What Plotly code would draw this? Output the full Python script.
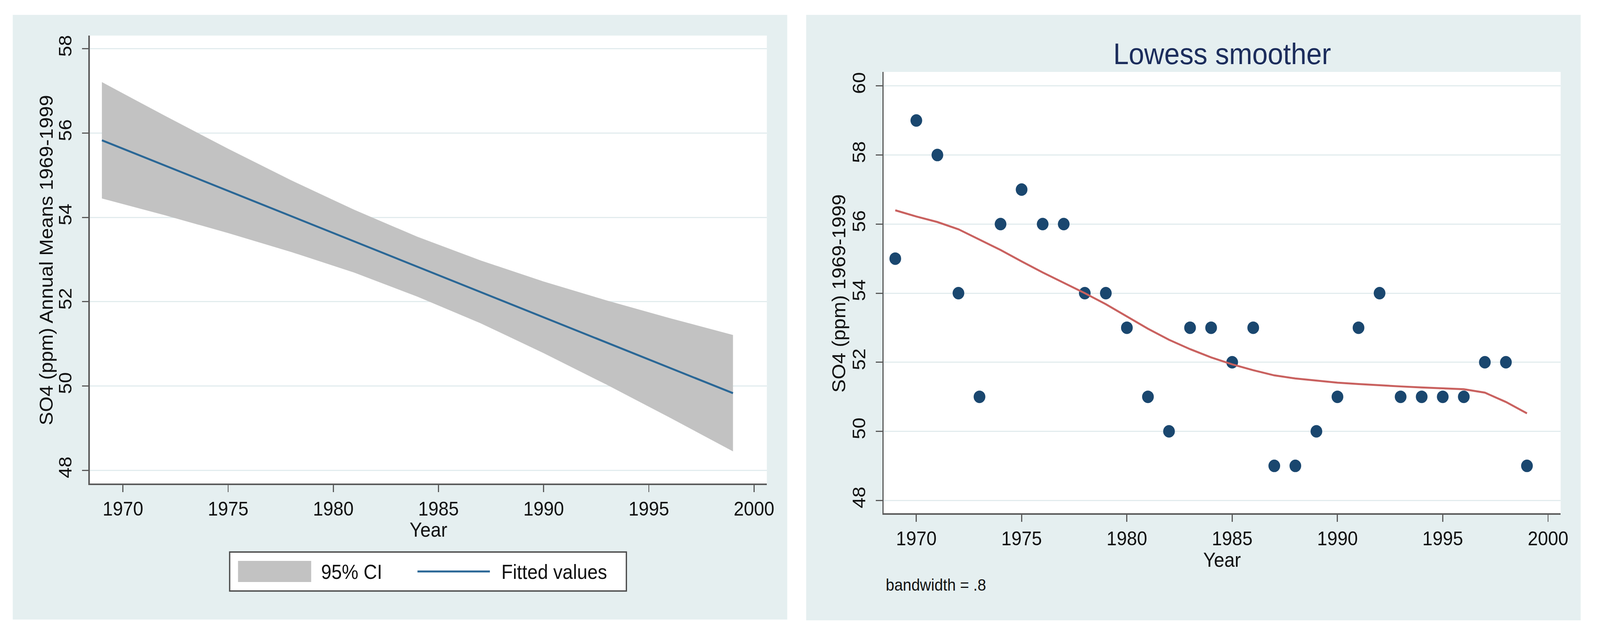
import plotly.graph_objects as go

W, H = 4375, 1622

# ---------------- data ----------------
years = list(range(1969, 2000))
so4 = [55, 59, 58, 54, 51, 56, 57, 56, 56, 54, 54, 53, 51, 50, 53, 53,
       52, 53, 49, 49, 50, 51, 53, 54, 51, 51, 51, 51, 52, 52, 49]
lowess = [56.40, 56.22, 56.06, 55.85, 55.55, 55.25, 54.92, 54.60, 54.30, 54.00,
          53.68, 53.32, 52.97, 52.65, 52.38, 52.14, 51.94, 51.77, 51.62, 51.53,
          51.47, 51.41, 51.37, 51.33, 51.30, 51.27, 51.25, 51.22, 51.12, 50.85, 50.52]

fit_years = [1969, 1972, 1975, 1978, 1981, 1984, 1987, 1990, 1993, 1996, 1999]
fit_vals = [55.83, 55.23, 54.63, 54.03, 53.43, 52.83, 52.23, 51.63, 51.03, 50.43, 49.83]
ci_upper = [57.21, 56.41, 55.63, 54.88, 54.18, 53.54, 52.98, 52.48, 52.03, 51.61, 51.21]
ci_lower = [54.45, 54.05, 53.63, 53.18, 52.69, 52.12, 51.49, 50.78, 50.03, 49.25, 48.45]

x_ticks = [1970, 1975, 1980, 1985, 1990, 1995, 2000]
y_ticks_left = [48, 50, 52, 54, 56, 58]
y_ticks_right = [48, 50, 52, 54, 56, 58, 60]

# ---------------- styling ----------------
FONT = "Liberation Sans, Arial, Helvetica, sans-serif"
PANEL_BG = "#e5eff0"
GRID = "#e2ecee"
AXIS = "#5a5a5a"


def px(x):
    return x / W


def py(y):
    return 1 - y / H


fig = go.Figure()

# Left panel: CI band + fitted line
fig.add_trace(go.Scatter(x=fit_years, y=ci_lower, mode="lines", line=dict(width=0, color="#c2c2c2"),
                         xaxis="x", yaxis="y", showlegend=False, hoverinfo="skip"))
fig.add_trace(go.Scatter(x=fit_years, y=ci_upper, mode="lines", line=dict(width=0, color="#c2c2c2"),
                         fill="tonexty", fillcolor="#c2c2c2", xaxis="x", yaxis="y",
                         name="95% CI", showlegend=False))
fig.add_trace(go.Scatter(x=fit_years, y=fit_vals, mode="lines", line=dict(width=5, color="#2a6796"),
                         xaxis="x", yaxis="y", name="Fitted values", showlegend=False))

# Right panel: scatter + lowess
fig.add_trace(go.Scatter(x=years, y=so4, mode="markers",
                         marker=dict(size=32, color="#1a476f", line=dict(width=0)),
                         xaxis="x2", yaxis="y2", showlegend=False))
fig.add_trace(go.Scatter(x=years, y=lowess, mode="lines", line=dict(width=5, color="#c9615f"),
                         xaxis="x2", yaxis="y2", showlegend=False))

axis_common = dict(showline=True, linecolor=AXIS, linewidth=4, ticks="outside", ticklen=18,
                   tickwidth=3, tickcolor=AXIS, zeroline=False,
                   tickfont=dict(family=FONT, size=50, color="#111111"))

fig.update_layout(
    width=W, height=H, autosize=False,
    margin=dict(l=0, r=0, t=0, b=0, pad=0),
    paper_bgcolor="white", plot_bgcolor="white",
    showlegend=False,
    xaxis=dict(domain=[px(247), px(2107)], anchor="y", range=[1968.43, 2000.61],
               tickvals=x_ticks, showgrid=False, **axis_common),
    yaxis=dict(domain=[py(1237), py(90)], anchor="x", range=[47.685, 58.315],
               tickvals=y_ticks_left, tickangle=-90, showgrid=True, gridcolor=GRID, gridwidth=3,
               ticklabelstandoff=8, **axis_common),
    xaxis2=dict(domain=[px(2428), px(4288)], anchor="y2", range=[1968.45, 2000.6],
                tickvals=x_ticks, showgrid=False, **axis_common),
    yaxis2=dict(domain=[py(1313), py(183)], anchor="x2", range=[47.627, 60.407],
                tickvals=y_ticks_right, tickangle=-90, showgrid=True, gridcolor=GRID, gridwidth=3,
                ticklabelstandoff=8, **axis_common),
)

shapes = [
    # panel backgrounds
    dict(type="rect", xref="paper", yref="paper", x0=px(35), x1=px(2163), y0=py(1585), y1=py(37),
         fillcolor=PANEL_BG, line=dict(width=0), layer="below"),
    dict(type="rect", xref="paper", yref="paper", x0=px(2215), x1=px(4343), y0=py(1587), y1=py(37),
         fillcolor=PANEL_BG, line=dict(width=0), layer="below"),
    # plot regions (white)
    dict(type="rect", xref="paper", yref="paper", x0=px(247), x1=px(2107), y0=py(1237), y1=py(90),
         fillcolor="white", line=dict(width=0), layer="below"),
    dict(type="rect", xref="paper", yref="paper", x0=px(2428), x1=px(4288), y0=py(1313), y1=py(183),
         fillcolor="white", line=dict(width=0), layer="below"),
    # legend box
    dict(type="rect", xref="paper", yref="paper", x0=px(631), x1=px(1721), y0=py(1512), y1=py(1412),
         fillcolor="white", line=dict(width=3.5, color="#4a4a4a"), layer="above"),
    dict(type="rect", xref="paper", yref="paper", x0=px(654), x1=px(855), y0=py(1489), y1=py(1435),
         fillcolor="#c2c2c2", line=dict(width=0), layer="above"),
    dict(type="line", xref="paper", yref="paper", x0=px(1147), x1=px(1346), y0=py(1462), y1=py(1462),
         line=dict(width=5, color="#2a6796"), layer="above"),
]

annotations = [
    dict(text="SO4 (ppm) Annual Means 1969-1999", x=px(127), y=py(665), textangle=-90,
         font=dict(family=FONT, size=51, color="#111111")),
    dict(text="Year", x=px(1177), y=py(1355), font=dict(family=FONT, size=51, color="#111111")),
    dict(text="95% CI", x=px(880), y=py(1463), xanchor="left",
         font=dict(family=FONT, size=51, color="#111111")),
    dict(text="Fitted values", x=px(1376), y=py(1463), xanchor="left",
         font=dict(family=FONT, size=51, color="#111111")),
    dict(text="Lowess smoother", x=px(3358), y=py(137), font=dict(family=FONT, size=76, color="#1c2d5c")),
    dict(text="SO4 (ppm) 1969-1999", x=px(2305), y=py(750), textangle=-90,
         font=dict(family=FONT, size=51, color="#111111")),
    dict(text="Year", x=px(3358), y=py(1432), font=dict(family=FONT, size=51, color="#111111")),
    dict(text="bandwidth = .8", x=px(2432), y=py(1496), xanchor="left",
         font=dict(family=FONT, size=42, color="#111111")),
]
for a in annotations:
    a.setdefault("xanchor", "center")
    a.update(xref="paper", yref="paper", yanchor="middle", showarrow=False)

fig.update_layout(shapes=shapes, annotations=annotations)

# Fit the fixed-size figure into the actual browser viewport if it differs.
post = """
document.documentElement.style.overflow = 'hidden';
document.body.style.margin = '0';
document.body.style.overflow = 'hidden';
var gd = document.getElementById('{plot_id}');
var vw = window.innerWidth || document.documentElement.clientWidth;
var vh = window.innerHeight || document.documentElement.clientHeight;
var sx = vw / %d, sy = vh / %d;
if (vw > 0 && vh > 0 && (Math.abs(sx - 1) > 0.002 || Math.abs(sy - 1) > 0.002)) {
  gd.style.transformOrigin = '0 0';
  gd.style.transform = 'scale(' + sx + ',' + sy + ')';
}
""" % (W, H)

fig.write_html("out.html", post_script=post, config={"displayModeBar": False})
